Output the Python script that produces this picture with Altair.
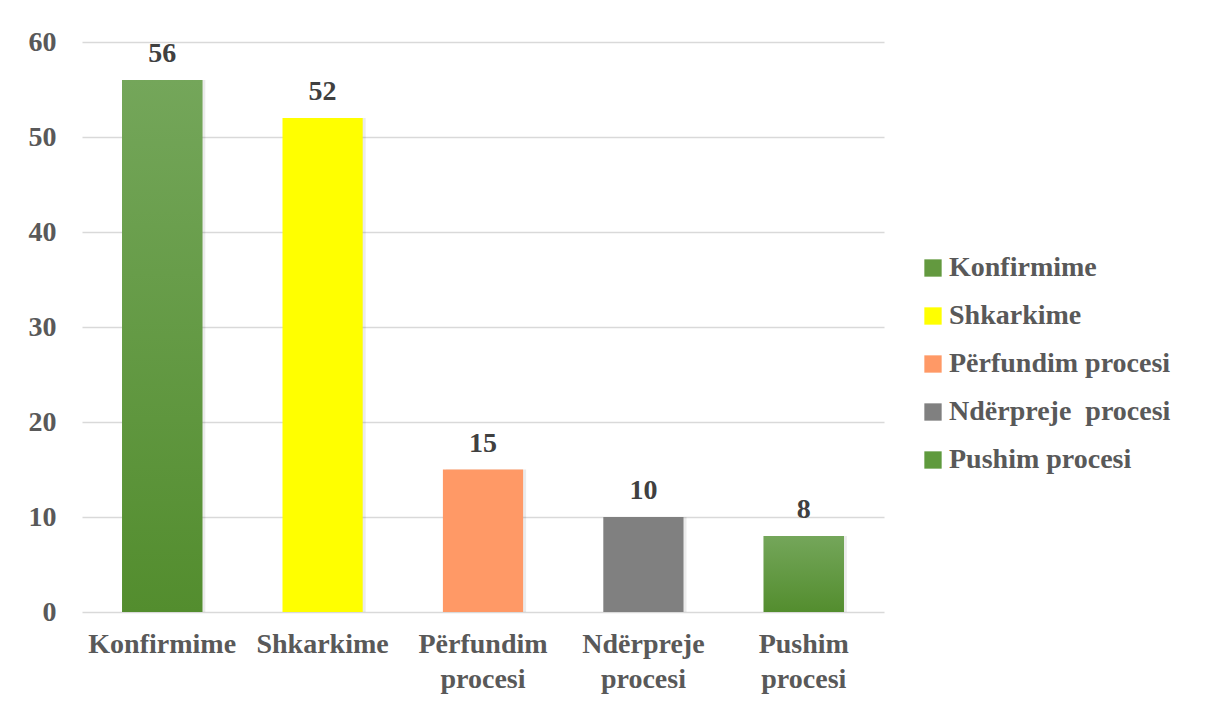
import altair as alt
import pandas as pd

categories = ["Konfirmime", "Shkarkime", "Përfundim procesi", "Ndërpreje procesi", "Pushim procesi"]
values = [56, 52, 15, 10, 8]
colors = ["#63993f", "#ffff00", "#ff9966", "#808080", "#5f9a3d"]
gradient_cats = ["Konfirmime", "Pushim procesi"]
y_ticks = [0, 10, 20, 30, 40, 50, 60]

df = pd.DataFrame({"cat": categories, "val": values})

FONT = "Liberation Serif"
LABEL_COLOR = "#595959"

x_enc = alt.X(
    "cat:N",
    sort=categories,
    title=None,
    scale=alt.Scale(paddingInner=0.5, paddingOuter=0.25),
    axis=alt.Axis(
        labelAngle=0,
        labelFont=FONT,
        labelFontSize=28,
        labelFontWeight="bold",
        labelColor=LABEL_COLOR,
        labelPadding=18,
        labelLineHeight=35,
        labelExpr="split(datum.label, ' ')",
        ticks=False,
        domain=False,
        grid=False,
    ),
)
y_enc = alt.Y(
    "val:Q",
    title=None,
    scale=alt.Scale(domain=[0, 60]),
    axis=alt.Axis(
        values=y_ticks,
        labelFont=FONT,
        labelFontSize=28,
        labelFontWeight="bold",
        labelColor=LABEL_COLOR,
        labelPadding=26,
        ticks=False,
        domain=False,
        gridColor="#d9d9d9",
        gridWidth=1.5,
    ),
)

base = alt.Chart(df)

shadow = base.mark_bar(color="#000000", opacity=0.08, xOffset=3).encode(x=x_enc, y=y_enc)

bars = base.mark_bar().encode(
    x=x_enc,
    y=y_enc,
    color=alt.Color(
        "cat:N",
        sort=categories,
        scale=alt.Scale(domain=categories, range=colors),
        legend=alt.Legend(
            title=None,
            orient="none",
            legendX=837,
            legendY=212,
            padding=0,
            symbolType="square",
            symbolSize=300,
            symbolStrokeWidth=0,
            labelFont=FONT,
            labelFontSize=28,
            labelFontWeight="bold",
            labelColor=LABEL_COLOR,
            labelOffset=2,
            rowPadding=20,
            labelLimit=400,
            labelExpr="datum.label == 'Ndërpreje procesi' ? 'Ndërpreje\u00a0 procesi' : datum.label",
        ),
    ),
)

grad = base.transform_filter(
    alt.FieldOneOfPredicate(field="cat", oneOf=gradient_cats)
).mark_bar(
    color=alt.Gradient(
        gradient="linear",
        stops=[
            alt.GradientStop(color="#74a65a", offset=0),
            alt.GradientStop(color="#538d2e", offset=1),
        ],
        x1=0, x2=0, y1=0, y2=1,
    )
).encode(x=x_enc, y=y_enc)

labels = base.mark_text(
    font=FONT,
    fontSize=28,
    fontWeight="bold",
    color="#404040",
    baseline="alphabetic",
    dy=-18,
).encode(x=x_enc, y=y_enc, text="val:Q")

chart = alt.layer(shadow, bars, grad, labels).properties(
    width=802,
    height=570,
    autosize=alt.AutoSizeParams(type="none"),
    padding={"left": 74, "top": 34, "right": 310, "bottom": 84},
    background="white",
).configure_view(stroke=None)

chart.save("out.html", embed_options={"renderer": "svg", "actions": False})
